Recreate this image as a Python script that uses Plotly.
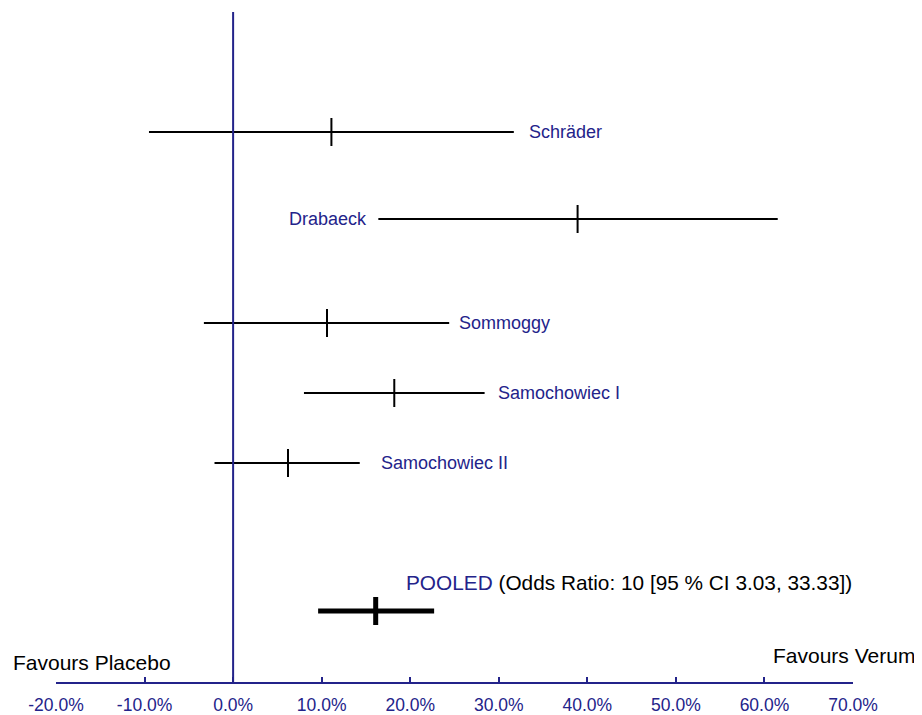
import plotly.graph_objects as go

# ---- data (percent) ----
studies = ["Schräder", "Drabaeck", "Sommoggy", "Samochowiec I", "Samochowiec II"]
est = [11.1, 38.9, 10.6, 18.2, 6.2]
lo = [-9.5, 16.4, -3.3, 8.0, -2.1]
hi = [31.7, 61.5, 24.4, 28.4, 14.3]

pooled_est = 16.1
pooled_lo = 9.6
pooled_hi = 22.7
pooled_text = "(Odds Ratio: 10 [95 % CI 3.03, 33.33])"

tick_vals = [-20, -10, 0, 10, 20, 30, 40, 50, 60, 70]
tick_text = ["-20.0%", "-10.0%", "0.0%", "10.0%", "20.0%", "30.0%",
             "40.0%", "50.0%", "60.0%", "70.0%"]

# ---- layout helpers ----
row_pos = [5.50, 4.63, 3.59, 2.89, 2.19]
pooled_pos = 0.71
label_side = ["right", "left", "right", "right", "right"]
label_shift = [13, -9, 8, 11, 19]

NAVY = "#23238a"
FONT = "Liberation Sans, Arial, sans-serif"

fig = go.Figure()

fig.add_trace(go.Scatter(
    x=est, y=row_pos, mode="markers",
    marker=dict(symbol="line-ns", size=20, color="black",
                line=dict(color="black", width=2)),
    error_x=dict(type="data", symmetric=False,
                 array=[h - e for h, e in zip(hi, est)],
                 arrayminus=[e - l for e, l in zip(est, lo)],
                 width=0, thickness=2, color="black"),
    showlegend=False, hoverinfo="skip"))

fig.add_trace(go.Scatter(
    x=[pooled_est], y=[pooled_pos], mode="markers",
    marker=dict(symbol="line-ns", size=20, color="black",
                line=dict(color="black", width=5)),
    error_x=dict(type="data", symmetric=False,
                 array=[pooled_hi - pooled_est],
                 arrayminus=[pooled_est - pooled_lo],
                 width=0, thickness=5, color="black"),
    showlegend=False, hoverinfo="skip"))

annotations = []
for name, y, l, h, side, sh in zip(studies, row_pos, lo, hi, label_side, label_shift):
    if side == "right":
        annotations.append(dict(x=h, y=y, xref="x", yref="y", text=name,
                                xanchor="left", yanchor="middle", xshift=sh,
                                showarrow=False,
                                font=dict(family=FONT, size=18, color=NAVY)))
    else:
        annotations.append(dict(x=l, y=y, xref="x", yref="y", text=name,
                                xanchor="right", yanchor="middle", xshift=sh,
                                showarrow=False,
                                font=dict(family=FONT, size=18, color=NAVY)))

annotations.append(dict(
    x=pooled_est, y=pooled_pos, xref="x", yref="y",
    text=f"<span style='color:{NAVY}'>POOLED</span> {pooled_text}",
    xanchor="left", yanchor="middle", xshift=28, yshift=29, showarrow=False,
    font=dict(family=FONT, size=20.8, color="black")))

annotations.append(dict(x=0, y=0, xref="paper", yref="paper", text="Favours Placebo",
                        xanchor="left", yanchor="middle", xshift=-45, yshift=20,
                        showarrow=False, font=dict(family=FONT, size=21, color="black")))
annotations.append(dict(x=1, y=0, xref="paper", yref="paper", text="Favours Verum",
                        xanchor="right", yanchor="middle", xshift=64, yshift=27,
                        showarrow=False, font=dict(family=FONT, size=21, color="black")))

fig.add_shape(type="line", x0=0, x1=0, y0=0, y1=1, xref="x", yref="paper",
              line=dict(color=NAVY, width=2))

fig.update_layout(
    width=914, height=707,
    margin=dict(l=48, r=69, t=4, b=33),
    paper_bgcolor="white", plot_bgcolor="white",
    annotations=annotations,
    xaxis=dict(range=[-20, 70], tickvals=tick_vals, ticktext=tick_text,
               showgrid=False, zeroline=False, showline=True, automargin=False,
               linecolor=NAVY, linewidth=2,
               ticks="inside", ticklen=5, tickwidth=2, tickcolor=NAVY,
               ticklabelstandoff=6,
               tickfont=dict(family=FONT, size=17.5, color=NAVY)),
    yaxis=dict(range=[0, 6.7], visible=False, showgrid=False, zeroline=False,
               automargin=False),
)

fig.write_html("out.html")
